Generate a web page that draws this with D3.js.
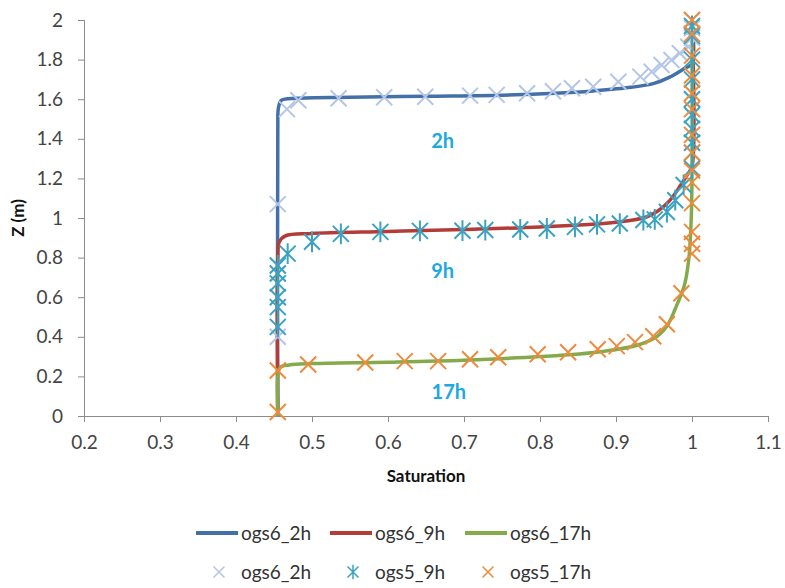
<!DOCTYPE html>
<html>
<head>
<meta charset="utf-8">
<script src="https://cdn.jsdelivr.net/npm/d3@7"></script>
<style>
  body { margin: 0; background: #fff; }
  text { font-family: Lato, "Open Sans", sans-serif; }
</style>
</head>
<body>
<div id="chart"></div>
<script>
// model curves (saturation, z)
const ogs6_2h = [
  [0.455, 0], [0.455, 1.45], [0.456, 1.56], [0.46, 1.595], [0.48, 1.605], [0.55, 1.61],
  [0.65, 1.615], [0.75, 1.62], [0.82, 1.63], [0.87, 1.642], [0.92, 1.66], [0.95, 1.68],
  [0.97, 1.71], [0.99, 1.755], [1.0, 1.78], [1.0, 2.0]
];
const ogs6_9h = [
  [0.455, 0], [0.455, 0.8], [0.457, 0.88], [0.465, 0.91], [0.5, 0.922], [0.6, 0.932],
  [0.7, 0.942], [0.8, 0.955], [0.9, 0.978], [0.94, 1.005], [0.955, 1.035], [0.97, 1.085],
  [0.985, 1.165], [0.995, 1.225], [1.0, 1.26], [1.0, 2.0]
];
const ogs6_17h = [
  [0.455, 0], [0.455, 0.2], [0.458, 0.245], [0.47, 0.258], [0.5, 0.265], [0.6, 0.272],
  [0.7, 0.282], [0.8, 0.3], [0.88, 0.325], [0.93, 0.36], [0.955, 0.405], [0.968, 0.46],
  [0.98, 0.56], [0.99, 0.66], [0.996, 0.8], [0.999, 1.0], [1.0, 1.2], [1.0, 2.0]
];

// reference markers
const mk_ogs6_2h = [
  [0.455, 0.4], [0.455, 1.07], [0.467, 1.55], [0.482, 1.595], [0.535, 1.605], [0.595, 1.61],
  [0.649, 1.612], [0.708, 1.618], [0.743, 1.622], [0.783, 1.63], [0.817, 1.64], [0.842, 1.655],
  [0.87, 1.663], [0.903, 1.688], [0.932, 1.714], [0.947, 1.739], [0.96, 1.773], [0.973, 1.798],
  [0.984, 1.832], [0.995, 1.865], [1.0, 1.91], [1.0, 1.96], [1.0, 2.0]
];
const mk_ogs5_9h = [
  [0.455, 0.45], [0.455, 0.55], [0.455, 0.6], [0.455, 0.67], [0.455, 0.72], [0.455, 0.76],
  [0.468, 0.82], [0.5, 0.88], [0.538, 0.92], [0.59, 0.93], [0.642, 0.935], [0.698, 0.936],
  [0.728, 0.939], [0.774, 0.942], [0.809, 0.947], [0.846, 0.955], [0.875, 0.968], [0.905, 0.972],
  [0.936, 0.99], [0.951, 0.993], [0.967, 1.03], [0.978, 1.09], [0.989, 1.167], [1.0, 1.25],
  [1.0, 1.33], [1.0, 1.38], [1.0, 1.45], [1.0, 1.52], [1.0, 1.6], [1.0, 1.7], [1.0, 1.8],
  [1.0, 1.92], [1.0, 1.97]
];
const mk_ogs5_17h = [
  [0.455, 0.02], [0.455, 0.23], [0.495, 0.26], [0.57, 0.27], [0.622, 0.277], [0.666, 0.277],
  [0.708, 0.287], [0.745, 0.297], [0.797, 0.312], [0.837, 0.322], [0.876, 0.337], [0.901, 0.353],
  [0.925, 0.373], [0.949, 0.403], [0.967, 0.463], [0.986, 0.62], [1.0, 0.82], [1.0, 0.87],
  [1.0, 0.93], [1.0, 1.075], [1.0, 1.18], [1.0, 1.24], [1.0, 1.33], [1.0, 1.42], [1.0, 1.55],
  [1.0, 1.63], [1.0, 1.72], [1.0, 1.82], [1.0, 1.93], [1.0, 2.0]
];

const xTicks = [0.2, 0.3, 0.4, 0.5, 0.6, 0.7, 0.8, 0.9, 1, 1.1];
const yTicks = [0, 0.2, 0.4, 0.6, 0.8, 1, 1.2, 1.4, 1.6, 1.8, 2];

const lineSeries = [
  { name: "ogs6_2h", data: ogs6_2h, color: "#4470a8" },
  { name: "ogs6_9h", data: ogs6_9h, color: "#b33c38" },
  { name: "ogs6_17h", data: ogs6_17h, color: "#84aa4c" }
];
const markerSeries = [
  { name: "ogs6_2h", data: mk_ogs6_2h, color: "#b4c6e8", shape: "x" },
  { name: "ogs5_9h", data: mk_ogs5_9h, color: "#3ba3bf", shape: "star" },
  { name: "ogs5_17h", data: mk_ogs5_17h, color: "#ee8a3c", shape: "x" }
];
const timeLabels = [
  { text: "2h", x: 0.672, z: 1.39 },
  { text: "9h", x: 0.672, z: 0.73 },
  { text: "17h", x: 0.68, z: 0.12 }
];

const width = 785, height = 588;
const plot = { left: 84, right: 768, top: 20, bottom: 416 };

const svg = d3.select("#chart").append("svg")
  .attr("width", width).attr("height", height);

const x = d3.scaleLinear().domain([0.2, 1.1]).range([plot.left, plot.right]);
const y = d3.scaleLinear().domain([0, 2]).range([plot.bottom, plot.top]);

const axisColor = "#8c8c8c";
const labelColor = "#444";

// axes
const xAxis = svg.append("g")
  .attr("transform", `translate(0,${plot.bottom})`)
  .call(d3.axisBottom(x).tickValues(xTicks).tickSize(6).tickPadding(14).tickFormat(d3.format("")));
const yAxis = svg.append("g")
  .attr("transform", `translate(${plot.left},0)`)
  .call(d3.axisLeft(y).tickValues(yTicks).tickSize(6).tickPadding(15).tickFormat(d3.format("")));

[xAxis, yAxis].forEach((g) => {
  g.selectAll("path, line").attr("stroke", axisColor).attr("stroke-width", 1);
  g.selectAll("text").attr("fill", labelColor).style("font-size", "19px")
    .style("font-family", "Lato, sans-serif");
});
// axis lines without end caps
xAxis.select(".domain").attr("d", `M${plot.left},0.5H${plot.right}`);
yAxis.select(".domain").attr("d", `M0.5,${plot.top}V${plot.bottom}`);

svg.append("text")
  .attr("x", (plot.left + plot.right) / 2).attr("y", 482)
  .attr("text-anchor", "middle")
  .style("font-size", "17px").style("font-weight", "bold").attr("fill", "#111")
  .text("Saturation");
svg.append("text")
  .attr("transform", `translate(24,${(plot.top + plot.bottom) / 2}) rotate(-90)`)
  .attr("text-anchor", "middle")
  .style("font-size", "17px").style("font-weight", "bold").attr("fill", "#111")
  .text("Z (m)");

// lines
const line = d3.line()
  .x((d) => x(d[0])).y((d) => y(d[1]))
  .curve(d3.curveCatmullRom.alpha(0.5));

lineSeries.forEach((s) => {
  svg.append("path")
    .datum(s.data)
    .attr("d", line)
    .attr("fill", "none")
    .attr("stroke", s.color)
    .attr("stroke-width", 3.5)
    .attr("stroke-linejoin", "round");
});

function markerPath(shape, r) {
  let p = `M${-r},${-r}L${r},${r}M${-r},${r}L${r},${-r}`;
  if (shape === "star") p += `M0,${-r * 1.3}L0,${r * 1.3}`;
  return p;
}

markerSeries.forEach((s) => {
  svg.append("g").selectAll("path")
    .data(s.data)
    .join("path")
    .attr("transform", (d) => `translate(${x(d[0])},${y(d[1])})`)
    .attr("d", markerPath(s.shape, 8))
    .attr("fill", "none")
    .attr("stroke", s.color)
    .attr("stroke-width", 2);
});

// time labels
svg.append("g").selectAll("text")
  .data(timeLabels)
  .join("text")
  .attr("x", (d) => x(d.x)).attr("y", (d) => y(d.z))
  .attr("text-anchor", "middle").attr("dy", "0.35em")
  .style("font-size", "20px").style("font-weight", "bold")
  .attr("fill", "#1ea8e0")
  .text((d) => d.text);

// legend
const legend = svg.append("g");
const legX = [196, 330, 465];
lineSeries.forEach((s, i) => {
  legend.append("line")
    .attr("x1", legX[i]).attr("x2", legX[i] + 42)
    .attr("y1", 533).attr("y2", 533)
    .attr("stroke", s.color).attr("stroke-width", 4);
  legend.append("text")
    .attr("x", legX[i] + 45).attr("y", 533).attr("dy", "0.35em")
    .style("font-size", "19px").attr("fill", "#333")
    .text(s.name);
});
markerSeries.forEach((s, i) => {
  legend.append("path")
    .attr("transform", `translate(${legX[i] + 23},572)`)
    .attr("d", markerPath(s.shape, 5.5))
    .attr("fill", "none").attr("stroke", s.color).attr("stroke-width", 1.5);
  legend.append("text")
    .attr("x", legX[i] + 45).attr("y", 572).attr("dy", "0.35em")
    .style("font-size", "19px").attr("fill", "#333")
    .text(s.name);
});
</script>
</body>
</html>
